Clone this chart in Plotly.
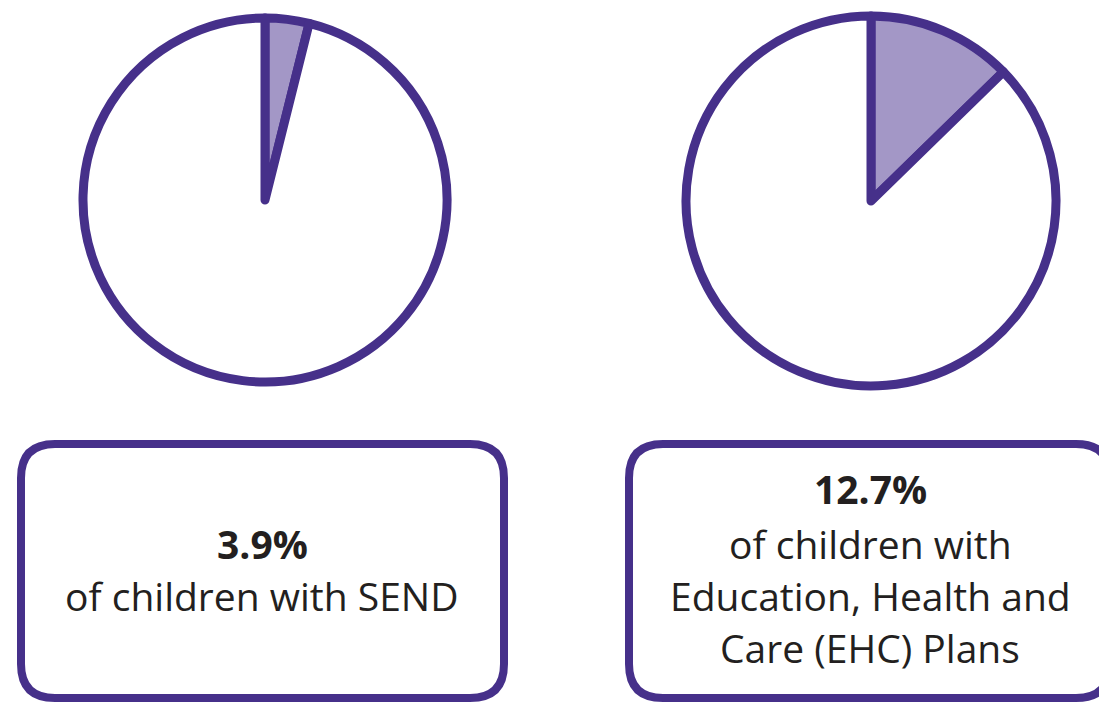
import plotly.graph_objects as go

# Data
pie_titles = ["SEND", "EHC Plans"]
pie_shares = [3.9, 12.7]          # percent of children
headline_labels = ["3.9%", "12.7%"]
box1_lines = ["of children with SEND"]
box2_lines = ["of children with", "Education, Health and", "Care (EHC) Plans"]

PURPLE = "#46308a"
LILAC = "#a397c6"
TEXT = "#231f20"
W, H = 1107, 702
OFF = 8  # page body margin offset

fig = go.Figure()

def dom(cx, cy, r):
    cx -= OFF
    cy -= OFF
    return dict(x=[(cx - r) / W, (cx + r) / W], y=[1 - (cy + r) / H, 1 - (cy - r) / H])

centers = [(265, 200, 182), (871, 201, 185)]
for share, (cx, cy, r), name in zip(pie_shares, centers, pie_titles):
    fig.add_trace(go.Pie(
        values=[share, 100 - share],
        labels=[name, "Other"],
        sort=False, direction="clockwise", rotation=0,
        marker=dict(colors=[LILAC, "white"], line=dict(color=PURPLE, width=9)),
        textinfo="none", hoverinfo="label+percent", showlegend=False,
        domain=dom(cx, cy, r),
    ))

fig.update_layout(
    width=W, height=H, margin=dict(l=0, r=0, t=0, b=0),
    paper_bgcolor="white", plot_bgcolor="white",
    xaxis=dict(range=[OFF, W + OFF], visible=False, fixedrange=True),
    yaxis=dict(range=[H + OFF, OFF], visible=False, fixedrange=True),
    showlegend=False,
)

def rounded(x0, y0, x1, y1, r):
    return (f"M {x0+r} {y0} L {x1-r} {y0} Q {x1} {y0} {x1} {y0+r} "
            f"L {x1} {y1-r} Q {x1} {y1} {x1-r} {y1} L {x0+r} {y1} "
            f"Q {x0} {y1} {x0} {y1-r} L {x0} {y0+r} Q {x0} {y0} {x0+r} {y0} Z")

for (x0, y0, x1, y1) in [(21, 444, 504, 698), (629, 444, 1110, 698)]:
    fig.add_shape(type="path", path=rounded(x0, y0, x1, y1, 34), xref="x", yref="y",
                  line=dict(color=PURPLE, width=8), fillcolor="rgba(0,0,0,0)")

FONT = "Open Sans"
def line(x, y, text, bold=False):
    fig.add_annotation(x=x, y=y, xref="x", yref="y", showarrow=False,
                       text=f"<b>{text}</b>" if bold else text,
                       font=dict(family=FONT, size=39, color=TEXT),
                       xanchor="center", yanchor="middle")

# Box 1
line(262, 543, headline_labels[0], bold=True)
for i, t in enumerate(box1_lines):
    line(262, 595 + 52 * i, t)
# Box 2
line(870, 488, headline_labels[1], bold=True)
for i, t in enumerate(box2_lines):
    line(870, 543 + 52 * i, t)

fig.write_html("out.html")
